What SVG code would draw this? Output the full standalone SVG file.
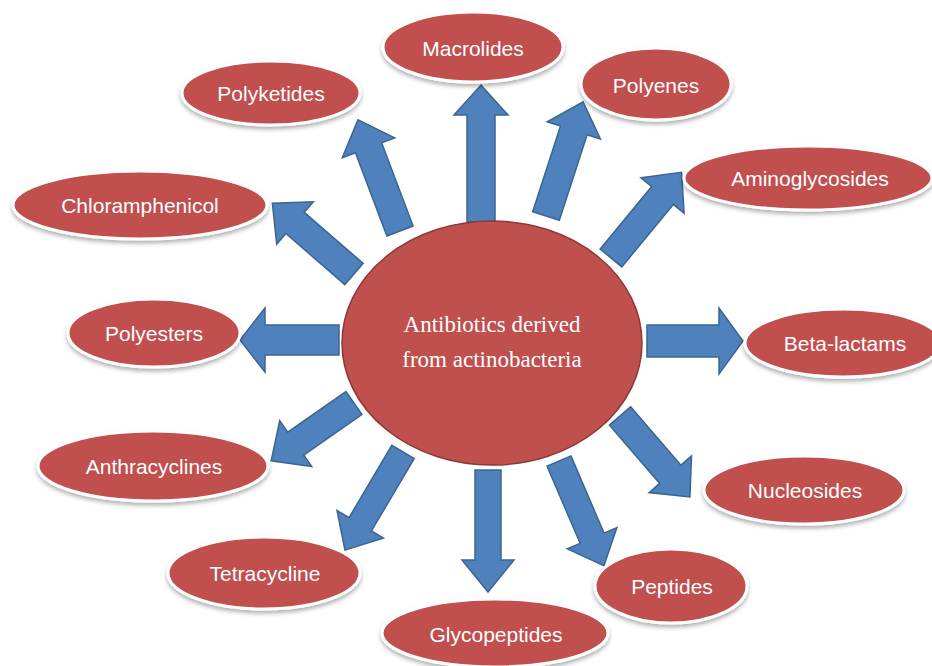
<svg xmlns="http://www.w3.org/2000/svg" width="932" height="666" viewBox="0 0 932 666">
<style>
.arr{fill:#4F81BD;stroke:#3A6592;stroke-width:1.5;stroke-linejoin:miter}
.node ellipse{fill:#C0504D;stroke:#FFFFFF;stroke-width:3;filter:url(#sh)}
.node text{fill:#FFFFFF;font-family:"Liberation Sans",Arial,sans-serif;font-size:21px;text-anchor:middle}
.center ellipse{fill:#C0504D;stroke:#8C3836;stroke-width:1.5}
.center text{fill:#FFFFFF;font-family:"Liberation Serif","Times New Roman",serif;font-size:23px;text-anchor:middle}
</style>
<defs>
<filter id="sh" x="-20%" y="-30%" width="140%" height="170%">
<feDropShadow dx="0" dy="3" stdDeviation="2" flood-color="#000" flood-opacity="0.3"/>
</filter>
</defs>
<rect width="932" height="666" fill="#FFFFFF"/>
<g id="connectors">
<polygon class="arr" transform="translate(481,222) rotate(-90)" points="0,-14 107,-14 107,-27 137,0 107,27 107,14 0,14"/>
<polygon class="arr" transform="translate(546,216) rotate(-72)" points="0,-14 90,-14 90,-28 120,0 90,28 90,14 0,14"/>
<polygon class="arr" transform="translate(611,258) rotate(-50.5)" points="0,-14 81,-14 81,-28 111,0 81,28 81,14 0,14"/>
<polygon class="arr" transform="translate(647,341)" points="0,-16 72,-16 72,-33 96,0 72,33 72,16 0,16"/>
<polygon class="arr" transform="translate(620,416) rotate(49.2)" points="0,-14 77,-14 77,-28 107,0 77,28 77,14 0,14"/>
<polygon class="arr" transform="translate(559,461) rotate(66.8)" points="0,-13 84,-13 84,-27 114,0 84,27 84,13 0,13"/>
<polygon class="arr" transform="translate(488,470) rotate(90)" points="0,-13 90,-13 90,-26 122,0 90,26 90,13 0,13"/>
<polygon class="arr" transform="translate(403,452) rotate(120.6)" points="0,-13 84,-13 84,-27 114,0 84,27 84,13 0,13"/>
<polygon class="arr" transform="translate(354,403) rotate(145.1)" points="0,-14 71,-14 71,-28 101,0 71,28 71,14 0,14"/>
<polygon class="arr" transform="translate(339,340) rotate(180)" points="0,-15 74,-15 74,-32 99,0 74,32 74,15 0,15"/>
<polygon class="arr" transform="translate(354,274) rotate(-139.1)" points="0,-14 78,-14 78,-28 108,0 78,28 78,14 0,14"/>
<polygon class="arr" transform="translate(400,231) rotate(-110.7)" points="0,-14 89,-14 89,-28 119,0 89,28 89,14 0,14"/>
</g>
<g id="center" class="center">
<ellipse cx="492" cy="343" rx="150" ry="122"/>
<text x="492" y="332">Antibiotics derived</text>
<text x="492" y="367">from actinobacteria</text>
</g>
<g id="macrolides" class="node"><ellipse cx="473" cy="47" rx="90" ry="35"/><text x="473" y="56">Macrolides</text></g>
<g id="polyenes" class="node"><ellipse cx="656" cy="84" rx="75" ry="36"/><text x="656" y="93">Polyenes</text></g>
<g id="polyketides" class="node"><ellipse cx="271" cy="93" rx="89" ry="32"/><text x="271" y="101">Polyketides</text></g>
<g id="aminoglycosides" class="node"><ellipse cx="808" cy="178" rx="124" ry="32"/><text x="810" y="186">Aminoglycosides</text></g>
<g id="chloramphenicol" class="node"><ellipse cx="140" cy="205" rx="127" ry="34"/><text x="140" y="213">Chloramphenicol</text></g>
<g id="polyesters" class="node"><ellipse cx="154" cy="333" rx="86" ry="34"/><text x="154" y="341">Polyesters</text></g>
<g id="beta-lactams" class="node"><ellipse cx="843" cy="343" rx="98" ry="34"/><text x="845" y="351">Beta-lactams</text></g>
<g id="nucleosides" class="node"><ellipse cx="804" cy="490" rx="100" ry="34"/><text x="805" y="498">Nucleosides</text></g>
<g id="anthracyclines" class="node"><ellipse cx="153" cy="466" rx="115" ry="35"/><text x="154" y="474">Anthracyclines</text></g>
<g id="tetracycline" class="node"><ellipse cx="264" cy="573" rx="96" ry="36"/><text x="265" y="581">Tetracycline</text></g>
<g id="glycopeptides" class="node"><ellipse cx="495" cy="633" rx="113" ry="34"/><text x="496" y="642">Glycopeptides</text></g>
<g id="peptides" class="node"><ellipse cx="671" cy="586" rx="76" ry="37"/><text x="672" y="594">Peptides</text></g>
</svg>
